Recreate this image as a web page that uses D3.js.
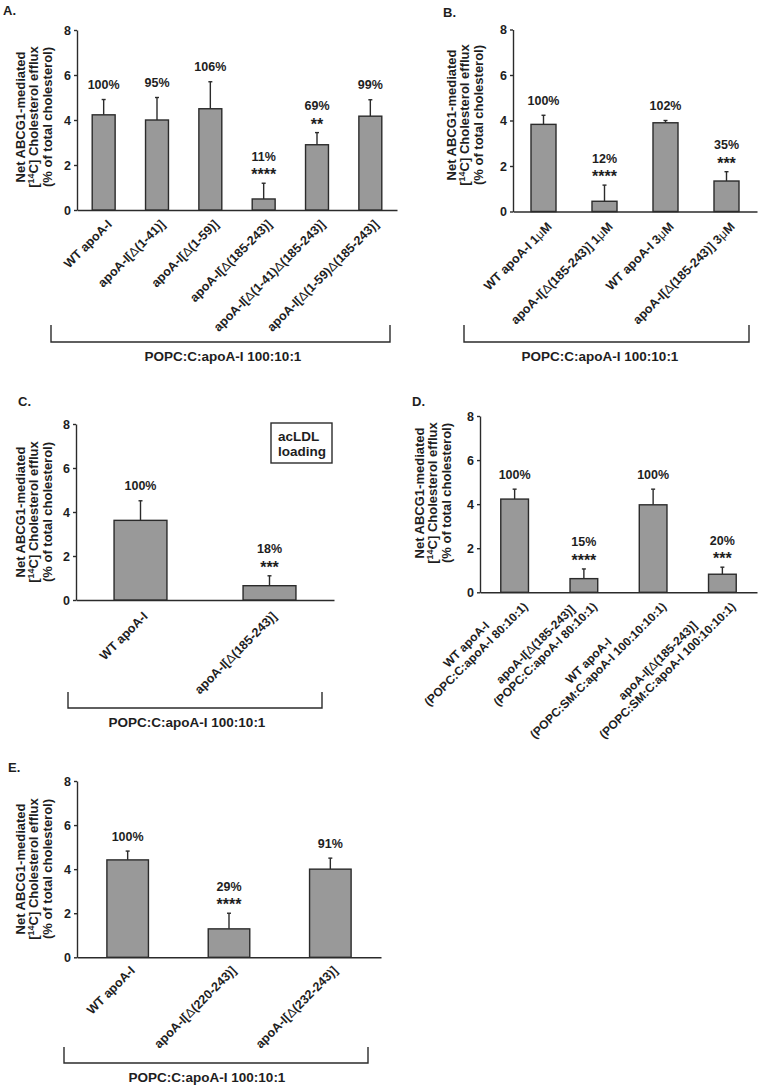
<!DOCTYPE html>
<html><head><meta charset="utf-8">
<script src="https://cdn.jsdelivr.net/npm/d3@7"></script>
<style>
body{margin:0;background:#fff;}
svg{display:block;font-family:"Liberation Sans",Arial,sans-serif;}
</style></head>
<body>
<svg id="chart" width="761" height="1089"></svg>
<script>
// ---------- DATA ----------
const yTicks = [0, 2, 4, 6, 8];
const bracketText = "POPC:C:apoA-I 100:10:1";

const aCategories = ["WT apoA-I","apoA-I[Δ(1-41)]","apoA-I[Δ(1-59)]","apoA-I[Δ(185-243)]","apoA-I[Δ(1-41)Δ(185-243)]","apoA-I[Δ(1-59)Δ(185-243)]"];
const aValues = [4.23, 4.0, 4.5, 0.49, 2.9, 4.17];
const aErrors = [0.68, 1.0, 1.2, 0.7, 0.54, 0.73];
const aPercents = ["100%","95%","106%","11%","69%","99%"];
const aStars = ["","","","****","**",""];

const bCategories = ["WT apoA-I 1μM","apoA-I[Δ(185-243)] 1μM","WT apoA-I 3μM","apoA-I[Δ(185-243)] 3μM"];
const bValues = [3.83, 0.45, 3.9, 1.34];
const bErrors = [0.4, 0.71, 0.1, 0.41];
const bPercents = ["100%","12%","102%","35%"];
const bStars = ["","****","","***"];

const cCategories = ["WT apoA-I","apoA-I[Δ(185-243)]"];
const cValues = [3.62, 0.65];
const cErrors = [0.89, 0.45];
const cPercents = ["100%","18%"];
const cStars = ["","***"];
const cNote = ["acLDL","loading"];

const dCategories = ["WT apoA-I","apoA-I[Δ(185-243)]","WT apoA-I","apoA-I[Δ(185-243)]"];
const dSubCategories = ["(POPC:C:apoA-I 80:10:1)","(POPC:C:apoA-I 80:10:1)","(POPC:SM:C:apoA-I 100:10:10:1)","(POPC:SM:C:apoA-I 100:10:10:1)"];
const dValues = [4.23, 0.62, 3.97, 0.82];
const dErrors = [0.45, 0.44, 0.71, 0.32];
const dPercents = ["100%","15%","100%","20%"];
const dStars = ["","****","","***"];

const eCategories = ["WT apoA-I","apoA-I[Δ(220-243)]","apoA-I[Δ(232-243)]"];
const eValues = [4.42, 1.29, 4.0];
const eErrors = [0.4, 0.71, 0.5];
const ePercents = ["100%","29%","91%"];
const eStars = ["","****",""];

// ---------- LAYOUT ----------
const svg = d3.select("#chart");
const TXT = "#1e1e1e";
const BAR = "#999999";
const EDGE = "#2b2b2b";

function rich(sel, str){
  str.split(/([Δμ])/).forEach(p=>{
    if(!p) return;
    const t = sel.append("tspan").text(p);
    if(p==="Δ"||p==="μ") t.attr("font-weight","normal");
  });
}

function drawPanel(cfg){
  const g = svg.append("g");
  const x = d3.scaleBand().domain(cfg.cats.map((c,i)=>i)).range([cfg.x0, cfg.x1]).padding(cfg.pad).paddingOuter(cfg.pad/2);
  const y = d3.scaleLinear().domain([0,8]).range([cfg.y0, cfg.y8]);

  g.append("text").attr("x", cfg.lx).attr("y", cfg.ly).attr("font-size",13).attr("font-weight","bold").attr("fill",TXT).text(cfg.letter);

  const ya = g.append("g").attr("transform",`translate(${cfg.x0},0)`)
    .call(d3.axisLeft(y).tickValues(yTicks).tickSize(3).tickSizeOuter(0).tickPadding(3));
  ya.select(".domain").attr("stroke",EDGE).attr("stroke-width",1.4);
  ya.selectAll(".tick line").attr("stroke",EDGE).attr("stroke-width",1.4);
  ya.selectAll(".tick text").attr("font-size",12.5).attr("font-weight","bold").attr("fill",TXT).attr("font-family","Liberation Sans, Arial, sans-serif");

  const xa = g.append("g").attr("transform",`translate(0,${cfg.y0})`)
    .call(d3.axisBottom(x).tickSize(0).tickSizeOuter(0).tickFormat(""));
  xa.select(".domain").attr("stroke",EDGE).attr("stroke-width",1.4);

  // y title (three rotated lines)
  const mk = (dx)=>g.append("text").attr("transform",`translate(${cfg.tx+dx},${cfg.ty}) rotate(-90)`)
    .attr("text-anchor","middle").attr("font-size",13).attr("font-weight","bold").attr("fill",TXT).attr("dy","0.36em");
  mk(0).text("Net ABCG1-mediated");
  const l2 = mk(13.5);
  l2.append("tspan").text("[");
  l2.append("tspan").attr("font-size",9).attr("dy",-4.5).text("14");
  l2.append("tspan").attr("dy",4.5).text("C] Cholesterol efflux");
  mk(27).text("(% of total cholesterol)");

  const data = cfg.vals.map((v,i)=>({i, v, e:cfg.errs[i], p:cfg.pcts[i], s:cfg.stars[i]}));

  const cap = 2;
  data.forEach(d=>{
    const cx = x(d.i)+x.bandwidth()/2;
    g.append("line").attr("x1",cx).attr("x2",cx).attr("y1",y(d.v)).attr("y2",y(d.v+d.e)).attr("stroke",EDGE).attr("stroke-width",1.4);
    g.append("line").attr("x1",cx-cap).attr("x2",cx+cap).attr("y1",y(d.v+d.e)).attr("y2",y(d.v+d.e)).attr("stroke",EDGE).attr("stroke-width",1.4);
  });
  g.selectAll("rect.bar").data(data).enter().append("rect").attr("class","bar")
    .attr("x",d=>x(d.i)).attr("width",x.bandwidth())
    .attr("y",d=>y(d.v)).attr("height",d=>cfg.y0-y(d.v))
    .attr("fill",BAR).attr("stroke",EDGE).attr("stroke-width",1.4);

  data.forEach(d=>{
    const cx = x(d.i)+x.bandwidth()/2;
    const top = y(d.v+d.e);
    if(d.s){
      g.append("text").attr("x",cx).attr("y",top-3).attr("text-anchor","middle").attr("font-size",16).attr("font-weight","bold").attr("fill",TXT).text(d.s);
      g.append("text").attr("x",cx).attr("y",top-22.5).attr("text-anchor","middle").attr("font-size",12.5).attr("font-weight","bold").attr("fill",TXT).text(d.p);
    } else {
      g.append("text").attr("x",cx).attr("y",top-10.5).attr("text-anchor","middle").attr("font-size",12.5).attr("font-weight","bold").attr("fill",TXT).text(d.p);
    }
  });

  cfg.cats.forEach((c,i)=>{
    const cx = x(i)+x.bandwidth()/2;
    const lg = g.append("g").attr("transform",`translate(${cx+cfg.labDx},${cfg.y0+cfg.labDy}) rotate(-45)`);
    if(cfg.subs){
      const t2 = lg.append("text").attr("text-anchor","end").attr("font-size",cfg.labFs).attr("font-weight","bold").attr("fill",TXT);
      rich(t2, cfg.subs[i]);
      const w = t2.node().getComputedTextLength();
      const t1 = lg.append("text").attr("x",-w/2).attr("y",-cfg.labFs*1.15).attr("text-anchor","middle").attr("font-size",cfg.labFs).attr("font-weight","bold").attr("fill",TXT);
      rich(t1, c);
    } else {
      const t = lg.append("text").attr("text-anchor","end").attr("font-size",cfg.labFs).attr("font-weight","bold").attr("fill",TXT);
      rich(t, c);
    }
  });

  if(cfg.br){
    const b = cfg.br;
    g.append("path").attr("d",`M${b.x1},${b.yt}V${b.yb}H${b.x2}V${b.yt}`).attr("fill","none").attr("stroke",EDGE).attr("stroke-width",1.4);
    g.append("text").attr("x",b.tx).attr("y",b.yb+18.5).attr("text-anchor","middle").attr("font-size",13.5).attr("font-weight","bold").attr("fill",TXT).text(bracketText);
  }
  return {g,x,y};
}

drawPanel({letter:"A.", lx:3, ly:15, x0:77, x1:397, y0:210, y8:30, pad:0.57, tx:20, ty:117,
  cats:aCategories, vals:aValues, errs:aErrors, pcts:aPercents, stars:aStars, labDx:9, labDy:15, labFs:12.5,
  br:{x1:51, x2:390, yt:325, yb:342, tx:223}});

drawPanel({letter:"B.", lx:443, ly:17, x0:513, x1:757, y0:211.5, y8:29.5, pad:0.59, tx:451, ty:115,
  cats:bCategories, vals:bValues, errs:bErrors, pcts:bPercents, stars:bStars, labDx:9, labDy:16, labFs:12.5,
  br:{x1:464, x2:749, yt:325, yb:342, tx:600}});

const pc = drawPanel({letter:"C.", lx:18, ly:406, x0:76, x1:334, y0:600, y8:424, pad:0.59, tx:20, ty:512,
  cats:cCategories, vals:cValues, errs:cErrors, pcts:cPercents, stars:cStars, labDx:8, labDy:17, labFs:12.5,
  br:{x1:68, x2:322, yt:692, yb:708, tx:187}});
pc.g.append("rect").attr("x",271).attr("y",423).attr("width",61).attr("height",40).attr("fill","#fff").attr("stroke",EDGE).attr("stroke-width",1.4);
cNote.forEach((t,i)=>pc.g.append("text").attr("x",278).attr("y",441+i*14.5).attr("font-size",13.5).attr("font-weight","bold").attr("fill",TXT).text(t));

drawPanel({letter:"D.", lx:412, ly:406, x0:480, x1:757, y0:592.3, y8:416, pad:0.6, tx:419, ty:493,
  cats:dCategories, subs:dSubCategories, vals:dValues, errs:dErrors, pcts:dPercents, stars:dStars, labDx:14, labDy:15, labFs:12});

drawPanel({letter:"E.", lx:8, ly:772, x0:77, x1:381, y0:957.3, y8:781, pad:0.59, tx:20, ty:869,
  cats:eCategories, vals:eValues, errs:eErrors, pcts:ePercents, stars:eStars, labDx:8, labDy:14, labFs:12.5,
  br:{x1:64, x2:368, yt:1047, yb:1063, tx:207}});
</script>
</body></html>
